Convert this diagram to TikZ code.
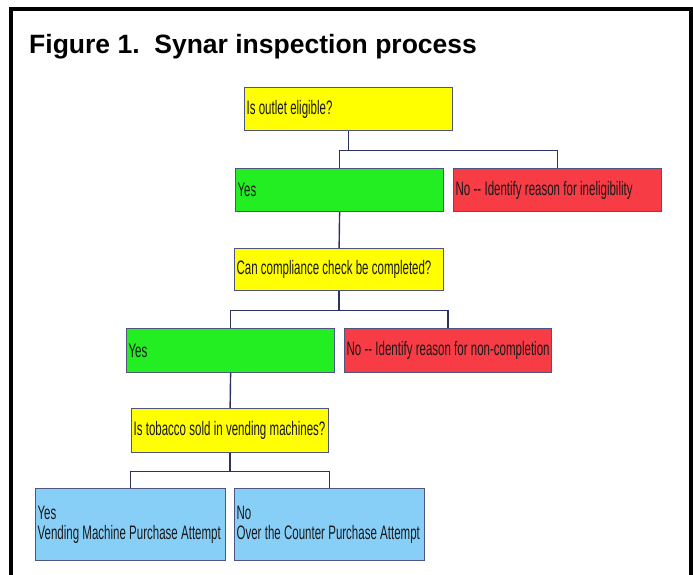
\documentclass[tikz,border=0pt]{standalone}
\usepackage{fontspec}
\setmainfont{Liberation Sans}
\newfontfamily\narrowfont[FakeStretch=0.59]{Liberation Sans}
\usetikzlibrary{positioning,calc}
\hyphenpenalty=10000

\definecolor{qyellow}{HTML}{FFFF00}
\definecolor{ygreen}{HTML}{22EE22}
\definecolor{nred}{HTML}{F83C46}
\definecolor{vblue}{HTML}{88CFF8}
\definecolor{boxline}{HTML}{4E5580}
\definecolor{wireline}{HTML}{2E3262}

\tikzset{
  box/.style={draw=boxline, line width=1.2pt, anchor=north west,
    inner xsep=2pt, inner ysep=0pt, text=black!90,
    font=\narrowfont\fontsize{19.5}{20}\selectfont,
    execute at begin node={\spaceskip=3.3pt plus 1pt minus 0.6pt\relax}},
  qbox/.style={box, fill=qyellow},
  yesbox/.style={box, fill=ygreen},
  nobox/.style={box, fill=nred},
  endbox/.style={box, fill=vblue},
  wire/.style={draw=wireline, line width=1.4pt}
}

\begin{document}
\begin{tikzpicture}[x=1pt,y=-1pt]
    \useasboundingbox (0,0) rectangle (693,575);
    \draw[line width=4pt] (10.5,9.5) rectangle (690.5,600);

    \node[anchor=base west, inner sep=0pt, font=\bfseries\fontsize{26.5}{30}\selectfont]
        (title) at (29,54) {Figure 1.\ \ Synar inspection process};

    % Level 1
    \node[qbox, text width=204pt, minimum height=43pt] (elig) at (244,87) {Is outlet eligible?};
    \node[yesbox, text width=204pt, minimum height=43pt] (yesA) at (235,168) {Yes};
    \node[nobox, text width=204pt, minimum height=43pt] (noA) at (453,168) {No -{}- Identify reason for ineligibility};

    % Level 2
    \node[qbox, text width=205pt, minimum height=42pt] (check) at (234,248) {Can compliance check be completed?};
    \node[yesbox, text width=204pt, minimum height=44pt] (yesB) at (126,328) {Yes};
    \node[nobox, text width=203pt, minimum height=44pt] (noB) at (344,328) {No -{}- Identify reason for non-completion};

    % Level 3
    \node[qbox, text width=193pt, minimum height=44pt] (vend) at (131,408) {Is tobacco sold in vending machines?};
    \node[endbox, text width=186pt, minimum height=72pt] (yesC) at (35,488) {Yes\\Vending Machine Purchase Attempt};
    \node[endbox, text width=186pt, minimum height=72pt] (noC) at (234,488) {No\\Over the Counter Purchase Attempt};

    % Forks
    \coordinate (forkA) at ($(elig.south)+(0,19)$);
    \coordinate (forkB) at ($(check.south)+(0,19)$);
    \coordinate (forkC) at ($(vend.south)+(0,18)$);

    \draw[wire] (elig.south) -- (forkA);
    \draw[wire] (yesA.north) |- (forkA) -| (noA.north);
    \draw[wire] (yesA.south) -- (check.north);

    \draw[wire] (check.south) -- (forkB);
    \draw[wire] (yesB.north) |- (forkB) -| (noB.north);
    \draw[wire] (yesB.south) -- (vend.north);

    \draw[wire] (vend.south) -- (forkC);
    \draw[wire] (yesC.north) |- (forkC) -| (noC.north);
\end{tikzpicture}
\end{document}
